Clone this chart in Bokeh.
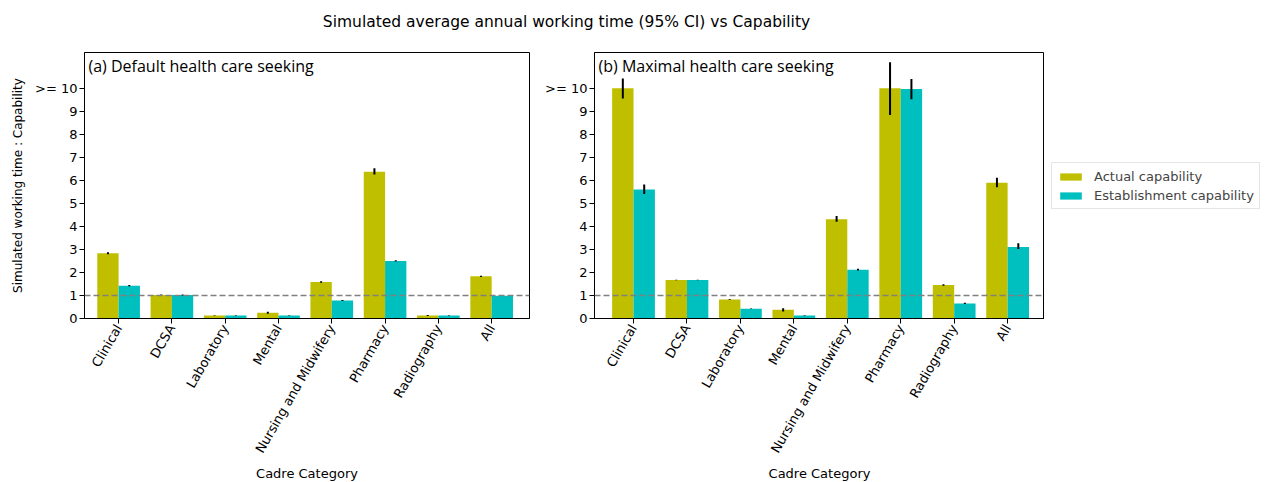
from bokeh.plotting import figure
from bokeh.models import Range1d, FixedTicker, Span, Label, Legend, LegendItem, ColumnDataSource
from bokeh.layouts import column, row
from bokeh.embed import file_html
from bokeh.resources import INLINE

# ---------------- data ----------------
categories = ["Clinical", "DCSA", "Laboratory", "Mental", "Nursing and Midwifery",
              "Pharmacy", "Radiography", "All"]

# (a) Default health care seeking
a_actual = [2.83, 1.02, 0.13, 0.25, 1.58, 6.37, 0.13, 1.83]
a_actual_lo = [2.79, 1.00, 0.12, 0.21, 1.55, 6.25, 0.11, 1.80]
a_actual_hi = [2.88, 1.04, 0.14, 0.29, 1.62, 6.52, 0.15, 1.86]
a_est = [1.42, 1.02, 0.13, 0.13, 0.78, 2.50, 0.13, 0.99]
a_est_lo = [1.40, 1.00, 0.12, 0.12, 0.76, 2.47, 0.12, 0.98]
a_est_hi = [1.45, 1.04, 0.14, 0.14, 0.80, 2.53, 0.14, 1.00]

# (b) Maximal health care seeking
b_actual = [10.0, 1.67, 0.83, 0.38, 4.31, 10.0, 1.45, 5.89]
b_actual_lo = [9.55, 1.66, 0.81, 0.30, 4.20, 8.84, 1.42, 5.70]
b_actual_hi = [10.42, 1.68, 0.85, 0.45, 4.45, 11.13, 1.49, 6.11]
b_est = [5.60, 1.67, 0.42, 0.13, 2.12, 9.97, 0.65, 3.11]
b_est_lo = [5.41, 1.66, 0.41, 0.12, 2.08, 9.52, 0.63, 3.02]
b_est_hi = [5.82, 1.68, 0.43, 0.14, 2.16, 10.40, 0.68, 3.27]

y_ticks = [0, 1, 2, 3, 4, 5, 6, 7, 8, 9, 10]
y_tick_labels = ["0", "1", "2", "3", "4", "5", "6", "7", "8", "9", ">= 10"]
threshold = 1.0

title_text = "Simulated average annual working time (95% CI) vs Capability"
series_names = ["Actual capability", "Establishment capability"]
colors = ["#bfbf00", "#00bfbf"]

FONT = "DejaVu Sans"
BAR_W = 0.4
FRAME_H = 266


def make_panel(label, actual, alo, ahi, est, elo, ehi, xr, frame_w, left_b, right_b, ylabel):
    p = figure(output_backend="svg", toolbar_location=None,
               frame_width=frame_w, frame_height=FRAME_H,
               x_range=Range1d(*xr), y_range=Range1d(0, 11.55),
               min_border_left=left_b, min_border_right=right_b,
               min_border_top=10, min_border_bottom=10)
    p.xgrid.visible = False
    p.ygrid.visible = False
    p.outline_line_color = "black"
    p.outline_line_alpha = 1
    p.background_fill_color = "white"
    p.border_fill_color = "white"

    idx = list(range(len(categories)))
    src_a = ColumnDataSource(dict(x=[i - BAR_W / 2 for i in idx], top=actual, lo=alo, hi=ahi))
    src_e = ColumnDataSource(dict(x=[i + BAR_W / 2 for i in idx], top=est, lo=elo, hi=ehi))
    p.vbar(x="x", top="top", width=BAR_W, source=src_a, fill_color=colors[0], line_color=None)
    p.vbar(x="x", top="top", width=BAR_W, source=src_e, fill_color=colors[1], line_color=None)
    p.segment(x0="x", y0="lo", x1="x", y1="hi", source=src_a, line_color="black", line_width=2)
    p.segment(x0="x", y0="lo", x1="x", y1="hi", source=src_e, line_color="black", line_width=2)

    p.add_layout(Span(location=threshold, dimension="width", line_color="#808080",
                      line_dash="6 3", line_width=1.6))

    p.add_layout(Label(x=xr[0] + 0.075, y=11.45, text=label, text_baseline="top",
                       text_align="left", text_font="Open Sans", text_font_size="16px",
                       text_color="black"))

    p.xaxis.ticker = FixedTicker(ticks=idx)
    p.xaxis.major_label_overrides = {i: c for i, c in enumerate(categories)}
    p.xaxis.major_label_orientation = 1.0472
    p.xaxis.axis_label = "Cadre Category"
    p.yaxis.ticker = FixedTicker(ticks=y_ticks)
    p.yaxis.major_label_overrides = {t: l for t, l in zip(y_ticks, y_tick_labels)}
    if ylabel:
        p.yaxis.axis_label = ylabel
    for ax in (p.xaxis[0], p.yaxis[0]):
        ax.axis_line_color = "black"
        ax.major_tick_line_color = "black"
        ax.major_tick_out = 5
        ax.major_tick_in = 0
        ax.minor_tick_line_color = None
        ax.major_label_text_font = FONT
        ax.major_label_text_font_size = "13px"
        ax.major_label_text_color = "black"
        ax.major_label_standoff = 2
        ax.axis_label_text_font = FONT
        ax.axis_label_text_font_style = "normal"
        ax.axis_label_text_color = "black"
    p.xaxis.axis_label_text_font_size = "13px"
    p.xaxis.axis_label_standoff = 4
    p.yaxis.axis_label_text_font_size = "12px"
    p.yaxis.axis_label_standoff = 7
    return p, src_a, src_e


p1, _, _ = make_panel("(a) Default health care seeking", a_actual, a_actual_lo, a_actual_hi,
                      a_est, a_est_lo, a_est_hi, (-0.64, 7.71), 445, 84, 11,
                      "Simulated working time : Capability")
p2, sa2, se2 = make_panel("(b) Maximal health care seeking", b_actual, b_actual_lo, b_actual_hi,
                          b_est, b_est_lo, b_est_hi, (-0.73, 7.69), 450, 54, 0, None)

# legend strip: its own small figure to the right of panel b; the x range lies
# outside the data so only the legend itself is visible
pl = figure(output_backend="svg", toolbar_location=None, frame_width=222, frame_height=FRAME_H,
            x_range=Range1d(-3, -2), y_range=Range1d(0, 1),
            min_border_left=0, min_border_right=0, min_border_top=10, min_border_bottom=0)
pl.axis.visible = False
pl.grid.visible = False
pl.outline_line_color = None
la = pl.vbar(x="x", top="top", width=BAR_W, source=sa2, fill_color=colors[0], line_color=None)
le = pl.vbar(x="x", top="top", width=BAR_W, source=se2, fill_color=colors[1], line_color=None)
legend = Legend(items=[LegendItem(label=series_names[0], renderers=[la]),
                       LegendItem(label=series_names[1], renderers=[le])],
                location=(7, 109), padding=5, spacing=3, margin=0,
                glyph_width=27, glyph_height=9, label_standoff=10,
                label_text_font=FONT, label_text_font_size="13px", label_height=16,
                border_line_color="#cccccc", border_line_width=1,
                background_fill_color="white")
pl.add_layout(legend)

# title strip
pt = figure(output_backend="svg", toolbar_location=None, width=1266, height=42,
            x_range=Range1d(0, 1266), y_range=Range1d(0, 42),
            min_border=0)
pt.axis.visible = False
pt.grid.visible = False
pt.outline_line_color = None
pt.add_layout(Label(x=566, y=21, x_units="screen", y_units="screen", text=title_text,
                    text_align="center", text_baseline="middle", text_font=FONT,
                    text_font_size="15.5px", text_color="black"))

layout = column(pt, row(p1, p2, pl, spacing=0), spacing=0)
open("out.html", "w").write(file_html(layout, INLINE))
